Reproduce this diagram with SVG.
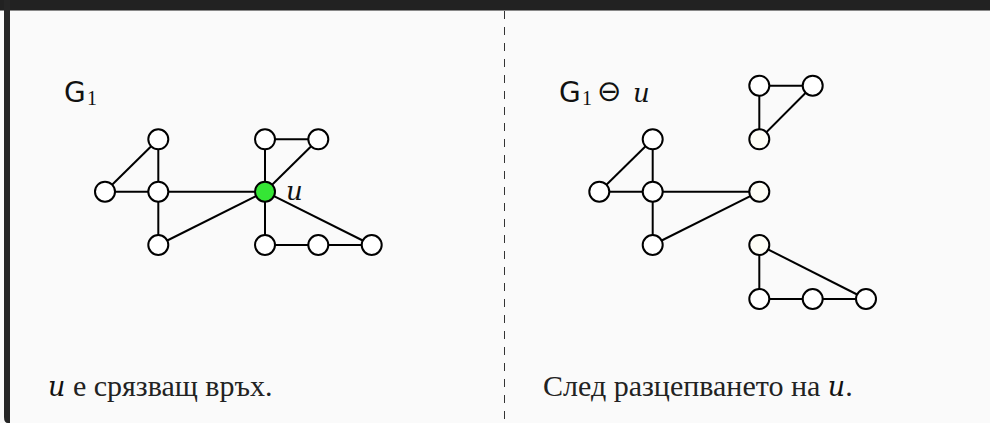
<svg xmlns="http://www.w3.org/2000/svg" width="990" height="423" viewBox="0 0 990 423">
<style>
.e{stroke:#000;stroke-width:2;fill:none}
.n{fill:#fff;stroke:#000;stroke-width:2}
.c{fill:#fdfdf6;stroke:#000;stroke-width:2}
.g{fill:#35e635;stroke:#000;stroke-width:2}
.G{font-family:"DejaVu Sans",sans-serif;font-size:28px;fill:#111}
.sub{font-family:"Liberation Serif",serif;font-size:20px;fill:#111}
.u{font-family:"DejaVu Serif",serif;font-style:italic;font-size:26px;fill:#111}
.cap{font-family:"Liberation Serif",serif;font-size:30px;fill:#222}
</style>
<rect x="0" y="0" width="990" height="423" fill="#fafafa"/>
<rect x="0" y="0" width="990" height="10" fill="#222"/>
<rect x="0" y="10" width="990" height="1" fill="#888"/>
<path d="M0 0 H10 V423 H8 Q4 423 4 417 V0 Z" fill="#262626"/>
<line x1="504.5" y1="11" x2="504.5" y2="423" stroke="#333" stroke-width="1" stroke-dasharray="8,8"/>

<g id="labels">
<text class="G" x="64" y="102">G</text><text class="sub" x="87" y="105">1</text>
<text class="u" x="286" y="200">u</text>
<text class="G" x="559" y="102">G</text><text class="sub" x="582" y="105">1</text>
<text x="597" y="100.5" style="font-family:'DejaVu Sans',sans-serif;font-size:29px;fill:#111">⊖</text>
<text class="u" x="633" y="102">u</text>
<text class="cap" x="48" y="396"><tspan class="u" style="font-size:27px">u</tspan> е срязващ връх.</text>
<text class="cap" x="543" y="396">След разцепването на <tspan class="u" style="font-size:27px">u</tspan>.</text>
</g>

<g id="connectors">
<line class="e" x1="105" y1="191.7" x2="158.3" y2="139.3"/>
<line class="e" x1="158.3" y1="139.3" x2="158.3" y2="245"/>
<line class="e" x1="105" y1="191.7" x2="265" y2="191.7"/>
<line class="e" x1="158.3" y1="245" x2="265" y2="191.7"/>
<line class="e" x1="265" y1="139.3" x2="265" y2="245"/>
<line class="e" x1="265" y1="139.3" x2="318.3" y2="139.3"/>
<line class="e" x1="318.3" y1="139.3" x2="265" y2="191.7"/>
<line class="e" x1="265" y1="191.7" x2="371.7" y2="245"/>
<line class="e" x1="265" y1="245" x2="371.7" y2="245"/>

<line class="e" x1="599.3" y1="191.7" x2="652.7" y2="139.3"/>
<line class="e" x1="652.7" y1="139.3" x2="652.7" y2="245"/>
<line class="e" x1="599.3" y1="191.7" x2="759.3" y2="191.7"/>
<line class="e" x1="652.7" y1="245" x2="759.3" y2="191.7"/>
<line class="e" x1="759.3" y1="85.7" x2="812.7" y2="85.7"/>
<line class="e" x1="759.3" y1="85.7" x2="759.3" y2="139.3"/>
<line class="e" x1="812.7" y1="85.7" x2="759.3" y2="139.3"/>
<line class="e" x1="759.3" y1="245" x2="759.3" y2="299"/>
<line class="e" x1="759.3" y1="299" x2="866" y2="299"/>
<line class="e" x1="759.3" y1="245" x2="866" y2="299"/>
</g>

<g id="n1"><circle class="n" cx="158.3" cy="139.3" r="10"/></g>
<g id="n2"><circle class="n" cx="265" cy="139.3" r="10"/></g>
<g id="n3"><circle class="n" cx="318.3" cy="139.3" r="10"/></g>
<g id="n4"><circle class="n" cx="105" cy="191.7" r="10"/></g>
<g id="n5"><circle class="n" cx="158.3" cy="191.7" r="10"/></g>
<g id="u"><circle class="g" cx="265" cy="191.7" r="10"/></g>
<g id="n6"><circle class="n" cx="158.3" cy="245" r="10"/></g>
<g id="n7"><circle class="n" cx="265" cy="245" r="10"/></g>
<g id="n8"><circle class="n" cx="318.3" cy="245" r="10"/></g>
<g id="n9"><circle class="n" cx="371.7" cy="245" r="10"/></g>

<g id="m1"><circle class="n" cx="652.7" cy="139.3" r="10"/></g>
<g id="m2"><circle class="n" cx="759.3" cy="85.7" r="10"/></g>
<g id="m3"><circle class="n" cx="812.7" cy="85.7" r="10"/></g>
<g id="u1"><circle class="c" cx="759.3" cy="139.3" r="10"/></g>
<g id="m4"><circle class="n" cx="599.3" cy="191.7" r="10"/></g>
<g id="m5"><circle class="n" cx="652.7" cy="191.7" r="10"/></g>
<g id="u2"><circle class="c" cx="759.3" cy="191.7" r="10"/></g>
<g id="m6"><circle class="n" cx="652.7" cy="245" r="10"/></g>
<g id="u3"><circle class="c" cx="759.3" cy="245" r="10"/></g>
<g id="m7"><circle class="n" cx="759.3" cy="299" r="10"/></g>
<g id="m8"><circle class="n" cx="812.7" cy="299" r="10"/></g>
<g id="m9"><circle class="n" cx="866" cy="299" r="10"/></g>
</svg>
